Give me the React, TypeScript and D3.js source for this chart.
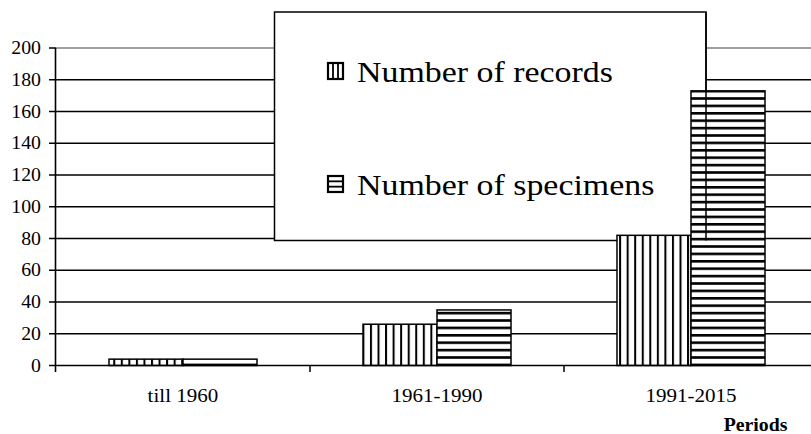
import React from "react";
import * as d3 from "d3";

const categories = ["till 1960", "1961-1990", "1991-2015"];
const seriesNames = ["Number of records", "Number of specimens"];
const records = [4, 26, 82];
const specimens = [4, 35, 173];
const yTicks = [0, 20, 40, 60, 80, 100, 120, 140, 160, 180, 200];

const W = 811;
const H = 434;
const FONT = '"Liberation Serif", Tinos, "Times New Roman", Times, serif';

export default function App() {
  const x = d3.scaleBand<string>().domain(categories).range([56, 818]).paddingInner(0).paddingOuter(0);
  const inner = d3.scaleBand<string>().domain(seriesNames).range([0, x.bandwidth()]).paddingInner(0).paddingOuter(0.716);
  const y = d3.scaleLinear().domain([0, 200]).range([365.5, 48]);
  const series = [records, specimens];
  const patterns = ["pv", "ph"];

  const legend = { x: 274.5, y: 12, w: 431.5, h: 228.5 };

  const sx = (tx: number, ty: number, s: number) => `translate(${tx},${ty}) scale(${s},1)`;

  return (
    <svg width={W} height={H} style={{ position: "absolute", left: 0, top: 0, background: "#fff", fontFamily: FONT }}>
      <defs>
        <pattern id="pv" patternUnits="userSpaceOnUse" width={7.55} height={10}>
          <rect width={7.55} height={10} fill="#fff" />
          <rect x={0} y={0} width={2} height={10} fill="#000" />
        </pattern>
        <pattern id="ph" patternUnits="userSpaceOnUse" width={10} height={7.4} y={1}>
          <rect width={10} height={7.4} fill="#fff" />
          <rect x={0} y={0} width={10} height={2.6} fill="#000" />
        </pattern>
      </defs>
      <rect width={W} height={H} fill="#fff" />

      {yTicks.filter((t) => t > 0).map((t) => (
        <line key={t} x1={56} x2={W} y1={y(t)} y2={y(t)} stroke={t === 200 ? "#808080" : "#000"} strokeWidth={1.3} />
      ))}

      <rect x={legend.x} y={legend.y} width={legend.w} height={legend.h} fill="#fff" stroke="#000" strokeWidth={1.5} />

      {categories.map((c, i) =>
        seriesNames.map((s, j) => {
          const bx = (x(c) as number) + (inner(s) as number);
          const v = series[j][i];
          return (
            <rect
              key={c + s}
              x={bx}
              y={y(v)}
              width={inner.bandwidth()}
              height={y(0) - y(v)}
              fill={`url(#${patterns[j]})`}
              stroke="#000"
              strokeWidth={1.5}
            />
          );
        })
      )}

      <line x1={legend.x + legend.w} x2={legend.x + legend.w} y1={legend.y} y2={legend.y + legend.h} stroke="#000" strokeWidth={1.5} />

      <line x1={55.5} x2={55.5} y1={48} y2={372} stroke="#000" strokeWidth={1.6} />
      <line x1={55.5} x2={W} y1={y(0)} y2={y(0)} stroke="#000" strokeWidth={1.6} />
      {yTicks.map((t) => (
        <g key={t}>
          <line x1={49} x2={56} y1={y(t)} y2={y(t)} stroke="#000" strokeWidth={1.5} />
          <text transform={sx(41, y(t) + 6, 1.1)} textAnchor="end" style={{ fontFamily: FONT }} fontSize={18} fill="#000">
            {t}
          </text>
        </g>
      ))}
      {categories.slice(1).map((c) => (
        <line key={c} x1={x(c) as number} x2={x(c) as number} y1={y(0)} y2={372} stroke="#000" strokeWidth={1.5} />
      ))}
      {categories.map((c) => (
        <text
          key={c}
          transform={sx((x(c) as number) + x.bandwidth() / 2, 402, 1.08)}
          textAnchor="middle"
          style={{ fontFamily: FONT }}
          fontSize={19.5}
          fill="#000"
        >
          {c}
        </text>
      ))}
      <text transform={sx(755.5, 431, 1.1)} textAnchor="middle" style={{ fontFamily: FONT }} fontSize={18} fontWeight="bold" fill="#000">
        Periods
      </text>

      {seriesNames.map((s, j) => {
        const base = j === 0 ? 82 : 195;
        const sxp = 328;
        const syp = base - 19;
        const sw = 15;
        const shh = 16;
        return (
          <g key={s}>
            <rect x={sxp} y={syp} width={sw} height={shh} fill="#fff" stroke="#000" strokeWidth={2.2} />
            {[1, 2].map((k) =>
              j === 0 ? (
                <line key={k} x1={sxp + (sw * k) / 3} x2={sxp + (sw * k) / 3} y1={syp} y2={syp + shh} stroke="#000" strokeWidth={1.8} />
              ) : (
                <line key={k} x1={sxp} x2={sxp + sw} y1={syp + (shh * k) / 3} y2={syp + (shh * k) / 3} stroke="#000" strokeWidth={1.8} />
              )
            )}
            <text transform={sx(357, base, 1.13)} style={{ fontFamily: FONT }} fontSize={30} fill="#000">
              {s}
            </text>
          </g>
        );
      })}
    </svg>
  );
}
